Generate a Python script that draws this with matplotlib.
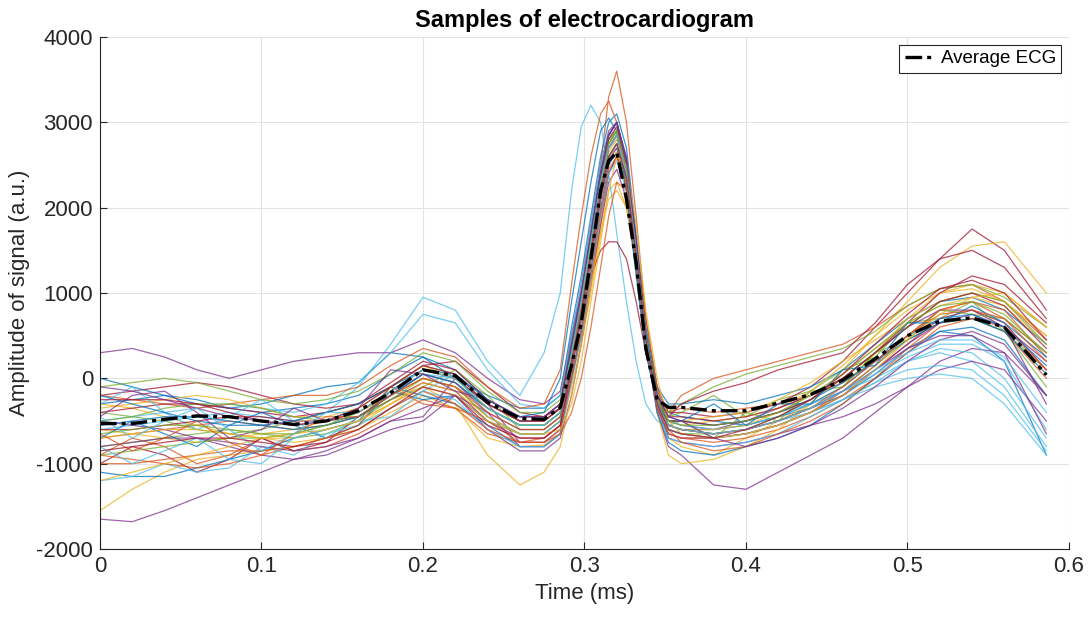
import matplotlib
matplotlib.use("Agg")
import matplotlib.pyplot as plt

plt.rcParams["font.family"] = ["Liberation Sans", "DejaVu Sans"]
plt.rcParams["axes.unicode_minus"] = False

# ── data ─────────────────────────────────────────────────────────────────────
time = [0, .02, .04, .06, .08, .10, .12, .14, .16,
        .18, .20, .22, .24, .26,
        .275, .285, .292, .298, .304, .310, .315, .320, .326, .332, .338, .345, .352,
        .36, .38, .40, .42, .44, .46, .48, .50, .52, .54, .56, .586]

average_ecg = [-530, -530, -480, -440, -450, -500, -540, -500, -380,
               -170, 100, 30, -280, -470,
               -480, -340, 150, 650, 1400, 2200, 2550, 2650, 2100, 1350, 350, -250, -340,
               -340, -380, -380, -290, -190, -20, 230, 500, 670, 710, 600, 40]

samples = [
    [-300, -250, -200, -250, -350, -400, -350, -300, -200, 50, 250, 100, -250, -450,
     -450, -300, 500, 1000, 1600, 2300, 2750, 2900, 2400, 1500, 500, -150, -400,
     -450, -500, -550, -450, -350, -200, 50, 350, 550, 500, 200, -900],
    [-700, -650, -600, -550, -500, -550, -600, -550, -450, -200, 0, -100, -350, -550,
     -550, -400, 300, 900, 1600, 2500, 3300, 3600, 3000, 1900, 700, -100, -400,
     -350, -400, -350, -300, -200, -50, 200, 500, 800, 900, 700, 300],
    [-1550, -1300, -1100, -950, -900, -850, -800, -700, -600, -400, -200, -350, -700, -800,
     -780, -650, -100, 400, 1000, 1700, 2200, 2300, 2000, 1300, 400, -300, -700,
     -800, -900, -700, -500, -300, -100, 300, 700, 1000, 1100, 1000, 600],
    [-1650, -1680, -1550, -1400, -1250, -1100, -950, -850, -700, -500, -350, -200, -600, -850,
     -850, -700, -200, 400, 1100, 1800, 2300, 2450, 2100, 1300, 400, -400, -800,
     -900, -1250, -1300, -1100, -900, -700, -400, -100, 200, 350, 300, -200],
    [-400, -450, -500, -600, -650, -600, -500, -400, -300, -100, 150, 50, -300, -500,
     -500, -350, 400, 1000, 1700, 2400, 2800, 2900, 2450, 1500, 500, -200, -450,
     -400, -200, -450, -250, -150, 100, 250, 650, 700, 900, 550, 100],
    [-600, -550, -500, -450, -400, -450, -500, -400, -100, 400, 950, 800, 200, -200,
     300, 1000, 2200, 2950, 3200, 3000, 2400, 1700, 900, 200, -300, -500, -550,
     -500, -550, -500, -400, -300, -150, 0, 200, 300, 200, -100, -800],
    [-200, -150, -100, -50, -100, -200, -300, -350, -300, -100, 150, 200, -100, -400,
     -450, -350, 200, 700, 1200, 1500, 1600, 1600, 1400, 900, 300, -200, -400,
     -400, -450, -400, -300, -100, 200, 600, 1000, 1400, 1750, 1500, 800],
    [0, -100, -200, -300, -350, -300, -200, -100, -50, 300, 250, 0, -200, -350,
     -350, -200, 600, 1200, 1900, 2600, 3000, 3100, 2700, 1700, 600, -100, -300,
     -300, -250, -300, -200, -100, 100, 400, 700, 900, 950, 800, 400],
    [-900, -700, -800, -1000, -900, -700, -850, -800, -650, -450, -250, -350, -650, -750,
     -700, -550, 0, 500, 1100, 1800, 2400, 2600, 2300, 1400, 400, -350, -650,
     -700, -750, -700, -600, -450, -250, 0, 350, 650, 700, 550, 0],
    [-300, -350, -450, -550, -650, -700, -750, -700, -550, -300, -100, -300, -900, -1250,
     -1100, -800, -200, 400, 1100, 1700, 2100, 2200, 2000, 1400, 500, -400, -900,
     -1000, -950, -800, -600, -300, 100, 500, 900, 1300, 1550, 1600, 1000],
    [300, 350, 250, 100, 0, 100, 200, 250, 300, 300, 450, 300, 0, -250,
     -300, -150, 500, 1100, 1800, 2500, 2900, 3000, 2600, 1600, 500, -250, -500,
     -550, -600, -500, -350, -200, 0, 300, 600, 800, 800, 600, 200],
    [-800, -750, -700, -650, -600, -650, -700, -650, -500, -250, -100, 100, -200, -600,
     -600, -450, 200, 800, 1500, 2200, 2600, 2700, 2300, 1400, 400, -300, -550,
     -600, -650, -600, -500, -350, -150, 150, 450, 650, 700, 550, -100],
    [-500, -450, -400, -350, -300, -350, -400, -300, -50, 300, 750, 650, 100, -300,
     -350, -200, 500, 1100, 1800, 2500, 2850, 2900, 2400, 1400, 400, -300, -550,
     -600, -650, -600, -500, -400, -250, -50, 200, 350, 300, 0, -700],
    [-1000, -800, -900, -1100, -950, -700, -850, -750, -450, -250, -50, -150, -500, -700,
     -700, -550, 100, 700, 1400, 2100, 2600, 2750, 2350, 1450, 450, -300, -600,
     -650, -700, -650, -550, -400, -200, 100, 400, 700, 800, 650, 100],
    [-1100, -1150, -1150, -1050, -950, -850, -700, -600, -500, -100, -200, -300, -550, -800,
     -800, -650, 0, 600, 1300, 2000, 2500, 2650, 2300, 1400, 400, -400, -750,
     -850, -900, -800, -700, -550, -300, 0, 300, 550, 600, 450, -200],
    [-200, -250, -300, -350, -300, -250, -200, -200, -100, 150, 350, 250, -100, -350,
     -300, 100, 1100, 1900, 2600, 3100, 3250, 3000, 2300, 1300, 300, -250, -400,
     -200, 0, 100, 200, 300, 400, 600, 850, 1050, 1100, 900, 450],
    [-600, -650, -700, -750, -700, -650, -600, -500, -400, -200, 0, -100, -450, -650,
     -650, -500, 100, 700, 1400, 2100, 2550, 2650, 2300, 1450, 450, -250, -500,
     -550, -500, -450, -350, -150, 150, 500, 800, 1000, 1050, 900, 500],
    [-500, -550, -600, -700, -800, -900, -950, -900, -750, -600, -500, -200, -400, -800,
     -800, -650, 0, 500, 1200, 1900, 2400, 2600, 2250, 1400, 400, -350, -700,
     -750, -800, -750, -650, -550, -450, -300, -100, 100, 200, 100, -500],
    [-100, -50, 0, -50, -150, -250, -300, -250, -150, 50, 300, 200, -150, -400,
     -400, -250, 400, 1000, 1700, 2400, 2800, 2900, 2500, 1550, 500, -200, -400,
     -300, -100, 50, 150, 250, 350, 550, 850, 1050, 1100, 950, 600],
    [-1200, -1150, -1000, -1100, -1050, -800, -900, -650, -550, -350, -150, -250, -600, -800,
     -800, -650, -50, 500, 1200, 1900, 2400, 2550, 2200, 1400, 400, -350, -700,
     -750, -800, -750, -650, -450, -250, -50, 100, 150, 100, -200, -850],
    [-400, -350, -300, -300, -350, -400, -450, -400, -300, -50, 200, 100, -250, -450,
     -450, -300, 400, 1000, 1700, 2400, 2850, 3000, 2550, 1600, 500, -200, -450,
     -450, -500, -450, -350, -200, 0, 300, 650, 1000, 1200, 1100, 650],
    [-700, -500, -650, -800, -550, -400, -550, -700, -550, -150, -250, -200, -500, -650,
     -650, -500, 200, 800, 1500, 2200, 2700, 2850, 2450, 1500, 450, -250, -550,
     -600, -600, -550, -450, -300, -100, 200, 450, 650, 700, 550, 50],
    [-900, -950, -1000, -1050, -1000, -900, -800, -700, -600, -350, -150, -300, -600, -750,
     -750, -650, -400, 0, 600, 1300, 1900, 2300, 2200, 1600, 700, -100, -600,
     -750, -850, -800, -650, -500, -300, 0, 300, 600, 700, 600, 100],
    [-350, -300, -250, -200, -250, -350, -450, -450, -350, -100, 150, 0, -350, -550,
     -550, -400, 300, 900, 1600, 2300, 2750, 2850, 2400, 1500, 500, -250, -500,
     -500, -450, -400, -250, -50, 200, 450, 700, 900, 1000, 900, 500],
    [-800, -750, -700, -700, -750, -800, -850, -800, -700, -500, -450, 0, -300, -750,
     -750, -600, 100, 700, 1400, 2100, 2550, 2700, 2350, 1450, 450, -350, -650,
     -700, -700, -650, -550, -400, -200, 100, 400, 650, 750, 600, -300],
    [-500, -450, -350, -300, -300, -350, -450, -500, -450, -200, 50, -50, -350, -550,
     -550, -400, 300, 900, 1600, 2300, 2750, 2900, 2450, 1500, 500, -250, -500,
     -500, -700, -400, -500, -150, -100, 300, 450, 800, 750, 700, 300],
    [-300, -100, -400, -600, -450, -250, -500, -700, -450, -200, 50, 0, -300, -500,
     -500, -350, 300, 900, 1600, 2300, 2700, 2800, 2400, 1500, 500, -250, -500,
     -550, -600, -550, -450, -300, -150, 50, 250, 400, 400, 200, -600],
    [-600, -600, -550, -500, -450, -450, -500, -500, -400, -150, 100, 0, -300, -500,
     -500, -350, 350, 950, 1650, 2400, 2850, 3000, 2550, 1600, 500, -200, -450,
     -300, -150, -50, 100, 200, 300, 650, 1100, 1400, 1500, 1300, 700],
    [-200, -300, -400, -500, -550, -550, -500, -400, -300, -100, 100, 50, -250, -450,
     -400, 0, 900, 1600, 2300, 2900, 3050, 2900, 2200, 1200, 300, -300, -500,
     -500, -550, -500, -400, -250, -50, 200, 500, 700, 750, 600, 150],
    [-1000, -1000, -950, -900, -850, -850, -800, -700, -550, -100, -300, -350, -500, -750,
     -750, -600, 0, 550, 1250, 1950, 2450, 2600, 2250, 1400, 400, -350, -650,
     -700, -700, -650, -550, -400, -150, 150, 500, 800, 900, 800, 250],
    [-700, -650, -600, -600, -650, -700, -700, -600, -500, -300, -100, -200, -500, -650,
     -650, -500, 200, 800, 1500, 2200, 2650, 2800, 2400, 1500, 450, -300, -550,
     -600, -600, -550, -400, -200, 50, 350, 650, 850, 950, 850, 400],
    [-450, -200, -150, -400, -700, -600, -350, -500, -450, -200, 50, -50, -400, -600,
     -600, -450, 200, 800, 1500, 2200, 2700, 2850, 2450, 1500, 450, -300, -550,
     -600, -650, -600, -500, -350, -150, 100, 350, 500, 500, 300, -650],
    [-900, -850, -800, -750, -700, -700, -650, -550, -450, -250, 0, -100, -450, -650,
     -650, -500, 150, 750, 1450, 2150, 2600, 2750, 2350, 1450, 450, -300, -600,
     -650, -650, -600, -450, -250, 0, 300, 600, 900, 1000, 900, 400],
    [-800, -1000, -850, -700, -950, -1000, -700, -600, -500, -450, -150, 50, -450, -650,
     -650, -500, 150, 750, 1450, 2150, 2600, 2750, 2350, 1450, 450, -300, -600,
     -650, -700, -650, -550, -400, -250, -100, 0, 50, 0, -300, -900],
    [-250, -250, -250, -300, -400, -500, -550, -500, -350, -100, 150, 50, -300, -500,
     -500, -350, 350, 950, 1650, 2350, 2800, 2950, 2500, 1550, 500, -250, -500,
     -500, -550, -500, -400, -250, 0, 300, 600, 900, 1000, 850, 350],
    [-550, -500, -450, -450, -500, -550, -600, -550, -450, -200, 50, -50, -350, -550,
     -550, -400, 350, 950, 1650, 2400, 2850, 3000, 2550, 1600, 550, -200, -450,
     -500, -300, -550, -300, -300, 100, 150, 650, 650, 850, 650, 250],
    [-650, -850, -700, -500, -750, -900, -650, -450, -450, -200, 0, -100, -400, -600,
     -600, -450, 250, 850, 1550, 2250, 2700, 2850, 2450, 1500, 450, -300, -550,
     -600, -650, -600, -500, -350, -100, 200, 500, 750, 800, 700, 200],
    [-1200, -1100, -1000, -900, -800, -700, -650, -600, -500, -300, -50, -150, -450, -650,
     -650, -600, -300, 200, 900, 1600, 2200, 2600, 2500, 1800, 800, 0, -500,
     -650, -700, -650, -550, -400, -200, 100, 450, 750, 950, 1000, 600],
    [-100, -150, -250, -350, -450, -500, -550, -500, -350, 100, 50, -150, -250, -450,
     -450, -300, 400, 1000, 1700, 2400, 2850, 3000, 2550, 1600, 500, -200, -450,
     -500, -700, -800, -700, -550, -350, -100, 200, 450, 550, 400, -200],
    [-650, -600, -550, -550, -600, -650, -650, -550, -400, -150, 100, 0, -350, -550,
     -550, -400, 300, 900, 1600, 2300, 2750, 2900, 2450, 1500, 500, -250, -500,
     -550, -550, -500, -400, -200, 50, 350, 650, 850, 900, 750, 300],
    [-450, -700, -500, -350, -600, -850, -650, -400, -400, -150, 100, 0, -350, -550,
     -550, -400, 300, 900, 1600, 2300, 2700, 2850, 2400, 1500, 450, -300, -550,
     -600, -650, -600, -500, -350, -150, 100, 300, 450, 450, 250, -400],
    [-850, -800, -750, -700, -700, -750, -800, -750, -600, -350, -100, -200, -550, -700,
     -700, -550, 150, 750, 1450, 2150, 2600, 2750, 2350, 1450, 450, -300, -600,
     -650, -700, -600, -450, -250, 50, 400, 750, 1050, 1150, 1000, 450],
]

# MATLAB default line colour order
line_colors = ["#0072BD", "#D95319", "#EDB120", "#7E2F8E", "#77AC30", "#4DBEEE", "#A2142F"]

# ── figure ───────────────────────────────────────────────────────────────────
fig = plt.figure(figsize=(10.89, 6.17), dpi=100)
ax = fig.add_axes([0.0918, 0.1102, 0.8898, 0.8298])

for i, trace in enumerate(samples):
    ax.plot(time, trace, color=line_colors[i % len(line_colors)], lw=0.9, alpha=0.75)

ax.plot(time, average_ecg, color="black", lw=2.4, linestyle=(0, (5, 1.5, 1.2, 1.5)),
        label="Average ECG")

ax.set_xlim(0, 0.6)
ax.set_ylim(-2000, 4000)
ax.set_xticks([0, 0.1, 0.2, 0.3, 0.4, 0.5, 0.6])
ax.set_xticklabels(["0", "0.1", "0.2", "0.3", "0.4", "0.5", "0.6"])
ax.set_yticks(range(-2000, 4001, 1000))

ax.grid(True, color="#e3e3e3", lw=0.8)
ax.set_axisbelow(True)
for side in ("top", "right"):
    ax.spines[side].set_visible(False)
for side in ("left", "bottom"):
    ax.spines[side].set_color("#262626")
    ax.spines[side].set_linewidth(0.8)
ax.tick_params(direction="in", length=5, labelsize=16, colors="#262626", pad=5)

ax.set_xlabel("Time (ms)", fontsize=16, color="#262626", labelpad=4)
ax.set_ylabel("Amplitude of signal (a.u.)", fontsize=16, color="#262626", labelpad=4)
ax.set_title("Samples of electrocardiogram", fontsize=17, fontweight="bold", pad=7)

leg = ax.legend(loc="upper right", fontsize=13.5, fancybox=False, framealpha=1,
                handlelength=1.6, handletextpad=0.3, borderpad=0.3,
                borderaxespad=0.4, bbox_to_anchor=(1.0, 1.0))
leg.get_frame().set_edgecolor("#262626")
leg.get_frame().set_linewidth(0.8)

fig.savefig("out.png", dpi=100)
